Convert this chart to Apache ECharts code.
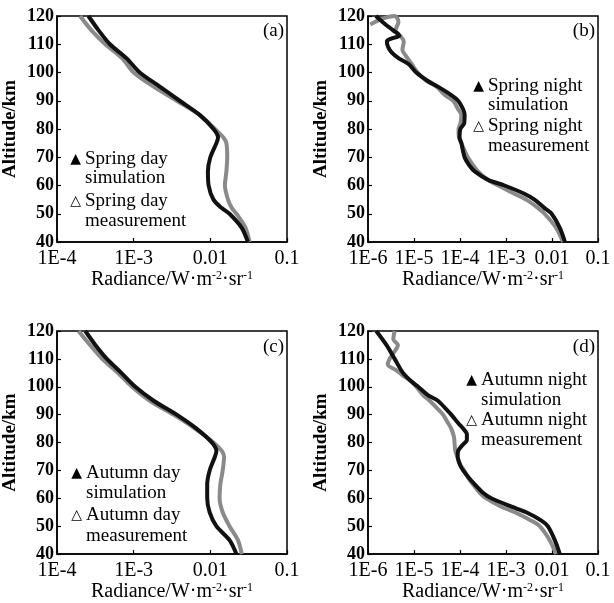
<!DOCTYPE html>
<html><head><meta charset="utf-8">
<script src="https://cdn.jsdelivr.net/npm/echarts@6/dist/echarts.min.js"></script>
<style>html,body{margin:0;padding:0;background:#fff}#c{width:614px;height:603px}</style>
</head><body><div id="c"></div>
<script>
// ---- Data (altitude in km, radiance in W·m^-2·sr^-1) ----
const altA = [120,115,110,105,100,95,90,85,80,77,75,70,65,60,55,52,50,45,40];
const simA = [2.57e-4,3.47e-4,4.9e-4,8.1e-4,1.2e-3,2.19e-3,3.98e-3,7.24e-3,1.10e-2,1.26e-2,1.20e-2,1.00e-2,9.3e-3,9.5e-3,1.10e-2,1.41e-2,1.78e-2,2.57e-2,3.09e-2];
const measA = [2.0e-4,2.8e-4,4.27e-4,7.1e-4,1.0e-3,1.82e-3,3.63e-3,7.24e-3,1.15e-2,1.48e-2,1.62e-2,1.66e-2,1.62e-2,1.55e-2,1.70e-2,1.91e-2,2.19e-2,2.88e-2,3.24e-2];

const altBSim = [120,117,115,113,112,111,109,107,105,103,100,97,95,92,90,87,85,82,80,77,75,70,67,65,62,60,57,55,52,50,45,40];
const simB = [1.48e-6,2.4e-6,3.47e-6,4.8e-6,3.2e-6,2.57e-6,2.75e-6,3.3e-6,4.68e-6,7.6e-6,1.12e-5,2.0e-5,3.31e-5,6.46e-5,9.1e-5,1.17e-4,1.26e-4,1.23e-4,1.02e-4,9.8e-5,1.07e-4,1.26e-4,1.62e-4,2.09e-4,4.07e-4,9.3e-4,2.57e-3,4.17e-3,6.9e-3,9.8e-3,1.48e-2,1.91e-2];
const altBMeas = [117,119,120,118,115,113,111,108,106,103,100,97,95,92,90,87,85,82,80,77,75,70,65,62,60,57,55,52,50,45,40];
const measB = [1.12e-6,2.0e-6,3.8e-6,4.6e-6,4.0e-6,5.0e-6,6.0e-6,5.6e-6,6.6e-6,8.9e-6,1.2e-5,1.86e-5,3.09e-5,4.68e-5,7.1e-5,9.1e-5,1.07e-4,1.02e-4,9.3e-5,9.5e-5,1.07e-4,1.48e-4,2.45e-4,4.07e-4,6.8e-4,1.55e-3,2.75e-3,5.0e-3,6.9e-3,1.23e-2,1.74e-2];

const altC = [120,115,110,105,100,95,90,85,80,77,75,70,65,60,55,50,45,40];
const simC = [2.34e-4,3.16e-4,4.47e-4,6.9e-4,1.05e-3,1.82e-3,3.63e-3,6.6e-3,1.05e-2,1.20e-2,1.15e-2,9.8e-3,9.1e-3,9.1e-3,9.8e-3,1.20e-2,1.78e-2,2.19e-2];
const measC = [1.91e-4,2.69e-4,3.89e-4,6.2e-4,9.5e-4,1.62e-3,3.31e-3,6.3e-3,1.10e-2,1.41e-2,1.51e-2,1.45e-2,1.35e-2,1.32e-2,1.45e-2,1.78e-2,2.29e-2,2.57e-2];

const altDSim = [120,115,110,105,102,100,97,95,92,90,87,85,83,81,79,77,75,72,70,67,65,62,60,57,55,52,50,45,40];
const simD = [1.51e-6,2.51e-6,3.8e-6,5.75e-6,8.7e-6,1.23e-5,2.0e-5,3.31e-5,5.0e-5,6.46e-5,9.1e-5,1.17e-4,1.41e-4,1.41e-4,1.12e-4,9.1e-5,8.9e-5,1.0e-4,1.17e-4,1.62e-4,2.09e-4,3.16e-4,4.79e-4,1.32e-3,2.75e-3,5.9e-3,8.1e-3,1.15e-2,1.48e-2];
const altDMeas = [120,117,115,112,110,108,106,104,102,100,97,95,92,90,87,85,82,80,77,75,72,70,67,65,62,60,57,55,52,50,45,40];
const measD = [3.8e-6,3.55e-6,4.47e-6,3.55e-6,2.95e-6,2.69e-6,4.07e-6,5.75e-6,8.7e-6,1.12e-5,1.58e-5,2.19e-5,3.31e-5,4.27e-5,5.5e-5,6.46e-5,7.4e-5,7.6e-5,7.9e-5,8.7e-5,1.02e-4,1.23e-4,1.55e-4,1.91e-4,2.69e-4,3.72e-4,7.9e-4,1.55e-3,3.55e-3,5.4e-3,8.9e-3,1.23e-2];

const yTicks = [40,50,60,70,80,90,100,110,120];
const xLabelsDay = ['1E-4','1E-3','0.01','0.1'];
const xLabelsNight = ['1E-6','1E-5','1E-4','1E-3','0.01','0.1'];
const panelLetters = ['(a)','(b)','(c)','(d)'];
const legendLines = [
  ['Spring day','simulation','Spring day','measurement'],
  ['Spring night','simulation','Spring night','measurement'],
  ['Autumn day','simulation','Autumn day','measurement'],
  ['Autumn night','simulation','Autumn night','measurement']
];

// ---- Layout ----
const SERIF = '"Liberation Serif","Times New Roman",serif';
const grids = [
  {left:57, top:16, width:230, height:226},
  {left:368, top:16, width:230, height:226},
  {left:57, top:331, width:230, height:226},
  {left:368, top:331, width:230, height:226}
];
const xRanges = [[-4,-1,xLabelsDay],[-6,-1,xLabelsNight],[-4,-1,xLabelsDay],[-6,-1,xLabelsNight]];

function pairs(xs, ys){ return xs.map((v,i)=>[v, ys[i]]); }
const seriesData = [
  [pairs(measA, altA), pairs(simA, altA)],
  [pairs(measB, altBMeas), pairs(simB, altBSim)],
  [pairs(measC, altC), pairs(simC, altC)],
  [pairs(measD, altDMeas), pairs(simD, altDSim)]
];

const xAxis = [], yAxis = [], series = [], graphic = [];
grids.forEach((g, i) => {
  const [e0, e1, labs] = xRanges[i];
  xAxis.push({
    type:'log', logBase:10, gridIndex:i, min:Math.pow(10,e0), max:Math.pow(10,e1), splitNumber:e1-e0,
    axisLine:{lineStyle:{color:'#000', width:1.5}},
    axisTick:{inside:true, length:4, lineStyle:{color:'#000', width:1.2}},
    minorTick:{show:false}, splitLine:{show:false},
    axisLabel:{color:'#000', fontFamily:SERIF, fontSize:20, margin:7,
      formatter:(v)=>{ const k = Math.round(Math.log10(v)) - e0; return labs[k] !== undefined ? labs[k] : ''; }},
    name:'{a|Radiance/W·m}{s|-2}{a|·sr}{s|-1}', nameLocation:'middle', nameGap:25,
    nameTextStyle:{ color:'#000', rich:{
      a:{fontFamily:SERIF, fontSize:20, color:'#000', lineHeight:20},
      s:{fontFamily:SERIF, fontSize:12, color:'#000', verticalAlign:'top', lineHeight:20}
    }}
  });
  yAxis.push({
    type:'value', gridIndex:i, min:40, max:120, interval:10,
    axisLine:{lineStyle:{color:'#000', width:1.5}},
    axisTick:{inside:true, length:4, lineStyle:{color:'#000', width:1.2}},
    splitLine:{show:false},
    axisLabel:{color:'#000', fontFamily:SERIF, fontSize:18, fontWeight:'bold', margin:3,
      formatter:(v)=> yTicks.indexOf(v) >= 0 ? String(v) : ''},
    name:'Altitude/km', nameLocation:'middle', nameGap:37, nameRotate:90,
    nameTextStyle:{color:'#000', fontFamily:SERIF, fontSize:19, fontWeight:'bold'}
  });
  series.push({
    type:'line', xAxisIndex:i, yAxisIndex:i, data:seriesData[i][0], showSymbol:false, smooth:0.3,
    lineStyle:{color:'#8a8a8a', width:4}, z:2
  });
  series.push({
    type:'line', xAxisIndex:i, yAxisIndex:i, data:seriesData[i][1], showSymbol:false, smooth:0.3,
    lineStyle:{color:'#111', width:4}, z:3
  });
});

// panel letters
const letterPos = [[284,31],[595,31],[284,347],[595,347]];
letterPos.forEach((p,i)=>{
  graphic.push({type:'text', x:p[0], y:p[1], style:{text:panelLetters[i], fontFamily:SERIF, fontSize:19, fill:'#000', align:'right', verticalAlign:'middle'}});
});
// legends: [triangle x, text x, line ys]
const legPos = [
  [81, 85, [159,178,201,221]],
  [484, 488, [86,105,126,146]],
  [82, 86, [473,493,515,536]],
  [477, 481, [380,400,420,440]]
];
legPos.forEach((lp,i)=>{
  const [tx, x, ys] = lp;
  graphic.push({type:'text', x:tx, y:ys[0], style:{text:'▲', fontFamily:'DejaVu Sans', fontSize:14, fill:'#000', align:'right', verticalAlign:'middle'}});
  graphic.push({type:'text', x:tx, y:ys[2], style:{text:'△', fontFamily:'DejaVu Sans', fontSize:14, fill:'#000', align:'right', verticalAlign:'middle'}});
  legendLines[i].forEach((t,k)=>{
    graphic.push({type:'text', x:x, y:ys[k], style:{text:t, fontFamily:SERIF, fontSize:19, fill:'#000', align:'left', verticalAlign:'middle'}});
  });
});

const chart = echarts.init(document.getElementById('c'), null, {renderer:'canvas'});
chart.setOption({
  animation:false,
  backgroundColor:'#fff',
  grid: grids.map(g => Object.assign({show:true, borderColor:'#000', borderWidth:1.5, backgroundColor:'transparent'}, g)),
  xAxis, yAxis, series, graphic
});
</script>
</body></html>
